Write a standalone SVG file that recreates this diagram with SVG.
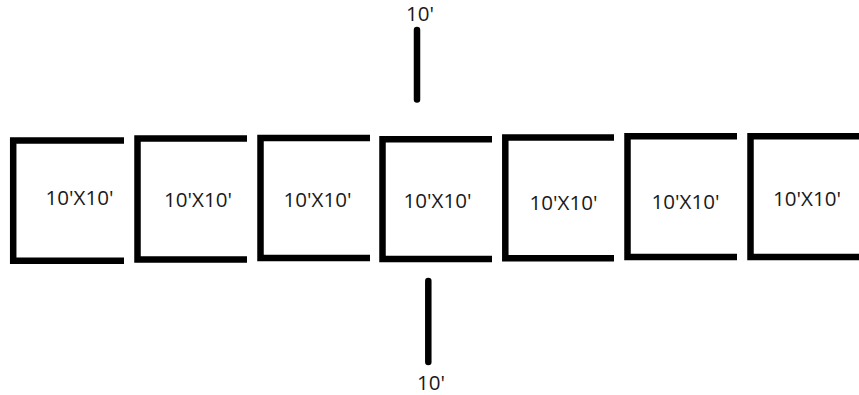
<svg xmlns="http://www.w3.org/2000/svg" width="859" height="395" viewBox="0 0 859 395">
<style>
.box{fill:none;stroke:#000;stroke-width:6.5;stroke-linejoin:miter}
.dim{fill:none;stroke:#000;stroke-width:6.5;stroke-linecap:round}
text{font-family:"Open Sans","Noto Sans",sans-serif;font-size:19.5px;fill:#1a1a1a}
</style>
<rect width="859" height="395" fill="#fff"/>
<g id="room-1"><path class="box" d="M124 140.600H13.200V260.800H124"/><text x="45.500" y="205" textLength="68" lengthAdjust="spacingAndGlyphs">10'X10'</text></g>
<g id="room-2"><path class="box" d="M247 138.600H137.500V259.500H247"/><text x="164" y="206.500" textLength="68" lengthAdjust="spacingAndGlyphs">10'X10'</text></g>
<g id="room-3"><path class="box" d="M370 138H260.500V258H370"/><text x="283.500" y="207" textLength="68" lengthAdjust="spacingAndGlyphs">10'X10'</text></g>
<g id="room-4"><path class="box" d="M492 139.200H382.500V259H492"/><text x="403.500" y="208" textLength="68" lengthAdjust="spacingAndGlyphs">10'X10'</text></g>
<g id="room-5"><path class="box" d="M614 137.500H505.300V258.200H614"/><text x="529.500" y="210" textLength="68" lengthAdjust="spacingAndGlyphs">10'X10'</text></g>
<g id="room-6"><path class="box" d="M737 136.300H627.500V257H737"/><text x="651.500" y="209" textLength="68" lengthAdjust="spacingAndGlyphs">10'X10'</text></g>
<g id="room-7"><path class="box" d="M859 136.300H750.500V257H859"/><text x="773" y="206" textLength="68" lengthAdjust="spacingAndGlyphs">10'X10'</text></g>
<g id="connectors">
<path class="dim" d="M417 30V99.500"/>
<path class="dim" d="M428.300 281V362"/>
</g>
<g id="label-top"><text x="406" y="20.500" textLength="28" lengthAdjust="spacingAndGlyphs">10'</text></g>
<g id="label-bottom"><text x="417" y="390" textLength="28" lengthAdjust="spacingAndGlyphs">10'</text></g>
</svg>
